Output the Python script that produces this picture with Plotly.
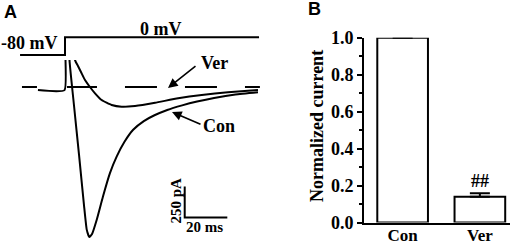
import plotly.graph_objects as go

# ---------------- data ----------------
# Panel A: voltage protocol (ms, mV)
volt_t = [-21.1, 0.0, 0.0, 91.1]
volt_mV = [-80, -80, 0, 0]

# zero-current reference (dashed)
base_t = [-20.2, 91.5]
base_I = [0, 0]

# Control current trace (ms, pA); values above the frame are off-scale capacitive transients
con_t = [-12.7, -0.2, -0.2, 2.0, 2.1, 4.2, 6.6, 8.9, 10.2, 11.4, 12.7, 14.9, 17.8,
         21.1, 24.3, 28.0, 32.0, 37.0, 42.0, 48.0, 55.0, 62.0, 70.0, 80.0, 90.6]
con_I = [-25, -25, 600, 600, 220, -145, -550, -950, -1150, -1210, -1185, -1070, -885,
         -695, -560, -440, -345, -275, -228, -185, -148, -117, -88, -60, -42]

# Verapamil current trace
ver_t = [-0.2, 4.6, 4.7, 6.1, 7.5, 9.4, 11.7, 14.1, 17.2, 21.9, 26.6, 32.9, 42.3,
         53.1, 64.2, 76.5, 90.6]
ver_I = [600, 600, 218, 169, 121, 56, 0, -51, -105, -145, -159, -153, -127,
         -91, -64, -43, -24]

# scale bar (ms, pA)
scale_t0, scale_I0 = 56.2, -1053
scale_dt, scale_dI = 20, 250

# Panel B
cats = ["Con", "Ver"]
vals = [1.0, 0.14]
errs = [0.0, 0.018]
yticks = [0.0, 0.2, 0.4, 0.6, 0.8, 1.0]

# ---------------- layout helpers ----------------
W, H = 512, 245
def fx(px):
    return px / W
def fy(py):
    return 1 - py / H

T0_PX, PX_PER_MS = 65, 2.13
I0_PY, PA_PER_PX = 87, 250 / 31
V0_PY, MV_PER_PX = 37.3, 80 / 17.7

serif = dict(family="Liberation Serif", color="black", weight="bold")

fig = go.Figure()
line = dict(color="black", width=2)

fig.add_trace(go.Scatter(x=volt_t, y=volt_mV, mode="lines", line=line,
                         xaxis="x", yaxis="y3", showlegend=False))
fig.add_trace(go.Scatter(x=base_t, y=base_I, mode="lines",
                         line=dict(color="black", width=2,
                                   dash="15px,30px,30px,28px,32px,28px,32px,28px,15px"),
                         xaxis="x", yaxis="y", showlegend=False))
fig.add_trace(go.Scatter(x=con_t, y=con_I, mode="lines", line=dict(color="black", width=2, shape="spline", smoothing=0.4),
                         xaxis="x", yaxis="y", showlegend=False))
fig.add_trace(go.Scatter(x=ver_t, y=ver_I, mode="lines", line=dict(color="black", width=2, shape="spline", smoothing=0.4),
                         xaxis="x", yaxis="y", showlegend=False))
fig.add_trace(go.Scatter(x=[scale_t0, scale_t0, scale_t0 + scale_dt],
                         y=[scale_I0 + scale_dI, scale_I0, scale_I0],
                         mode="lines", line=line, xaxis="x", yaxis="y", showlegend=False))

fig.add_trace(go.Bar(x=cats, y=vals, width=0.656, cliponaxis=False,
                     marker=dict(color="white", line=dict(color="black", width=2)),
                     error_y=dict(type="data", symmetric=False, array=errs,
                                  arrayminus=[0, 0], color="black", thickness=2, width=10),
                     xaxis="x2", yaxis="y2", showlegend=False))

fig.update_layout(
    width=W, height=H, autosize=False,
    margin=dict(l=0, r=0, t=0, b=0, pad=0, autoexpand=False),
    paper_bgcolor="white", plot_bgcolor="rgba(0,0,0,0)",
    xaxis=dict(domain=[0, fx(270)], range=[(0 - T0_PX) / PX_PER_MS, (270 - T0_PX) / PX_PER_MS],
               visible=False, anchor="y", automargin=False),
    yaxis=dict(domain=[0, fy(60)], range=[(I0_PY - 245) * PA_PER_PX, (I0_PY - 60) * PA_PER_PX],
               visible=False, anchor="x", automargin=False),
    yaxis3=dict(domain=[fy(62), fy(28)], range=[(V0_PY - 62) * MV_PER_PX, (V0_PY - 28) * MV_PER_PX],
                visible=False, anchor="x", automargin=False),
    xaxis2=dict(domain=[fx(364), fx(510)], range=[-0.5, 1.39], type="category",
                showline=True, linecolor="black", linewidth=2, ticks="",
                tickfont=dict(size=17, **serif), anchor="y2", showgrid=False, zeroline=False,
                automargin=False, ticklabelstandoff=-4),
    yaxis2=dict(domain=[fy(222.5), fy(37.7)], range=[0, 1.0], anchor="x2",
                showline=True, linecolor="black", linewidth=2,
                ticks="outside", ticklen=5, tickwidth=2, tickcolor="black",
                tickvals=yticks, tickformat=".1f",
                minor=dict(dtick=0.1, ticks="outside", ticklen=3, tickwidth=2, tickcolor="black", showgrid=False),
                tickfont=dict(size=18, **serif), showgrid=False, zeroline=False, automargin=False),
)

def txt(s, px, py, size, font=serif, angle=0, xanchor="center"):
    f = dict(font)
    f["size"] = size
    fig.add_annotation(text=s, x=fx(px), y=fy(py), xref="paper", yref="paper",
                       showarrow=False, font=f, textangle=angle,
                       xanchor=xanchor, yanchor="middle")

sans = dict(family="Liberation Sans", color="black", weight="bold")
txt("A", 10, 11.5, 18, sans)
txt("B", 314, 9, 18, sans)
txt("-80 mV", 29, 43, 18)
txt("0 mV", 161, 29, 18)
txt("Ver", 214, 63, 18)
txt("Con", 219, 125.5, 18)
txt("250 pA", 175.5, 201, 15, angle=-90)
txt("20 ms", 204, 227, 15)
txt("##", 480, 181, 18)
txt("Normalized current", 317, 126, 18, angle=-90)

def arrow(tip, tail):
    fig.add_annotation(x=fx(tip[0]), y=fy(tip[1]), xref="paper", yref="paper",
                       ax=tail[0] - tip[0], ay=tail[1] - tip[1], axref="pixel", ayref="pixel",
                       text="", showarrow=True, arrowhead=2, arrowsize=1.2,
                       arrowwidth=1.6, arrowcolor="black")

arrow((168, 88), (197, 65))
arrow((172, 112), (202, 125))

fig.write_html("out.html", config={"displayModeBar": False},
               post_script="document.body.style.margin='0';document.body.style.overflow='hidden';")
